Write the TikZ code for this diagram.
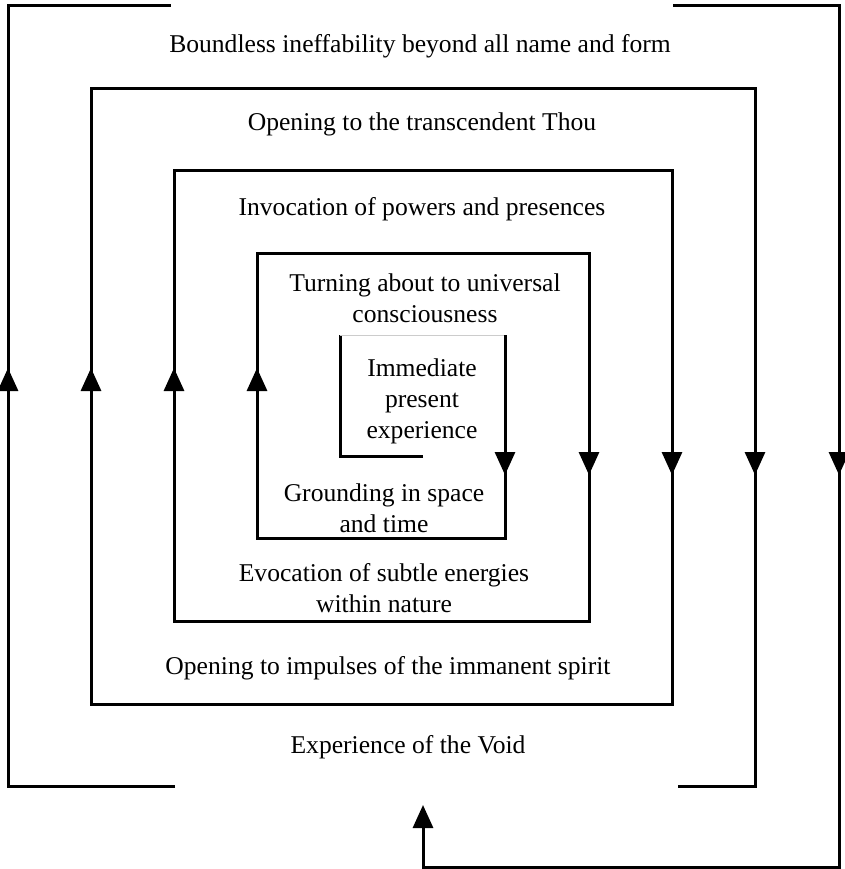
\documentclass[tikz,border=0pt]{standalone}
\usepackage{fontspec}
\setmainfont{Liberation Serif}
\usetikzlibrary{arrows.meta}
\begin{document}
\begin{tikzpicture}[x=1bp,y=-1bp,
  spiral/.style={line width=3bp, line join=miter},
  faint/.style={line width=0.6bp, black!20},
  tip/.style={line width=3bp, -{Triangle[width=20bp,length=23bp]}},
  lbl/.style={font=\fontsize{25.6bp}{30.8bp}\selectfont, inner sep=0pt, anchor=base, align=center}]
\useasboundingbox (0,0) rectangle (845,869);
% spiral
\draw[spiral] (423,456) -- (340,456) -- (340,335);
\draw[faint] (340,335) -- (505,335);
\draw[spiral] (505,335) -- (505,538) -- (257,538) -- (257,253) -- (589,253) -- (589,621)
  -- (174,621) -- (174,170) -- (672,170) -- (672,704) -- (91,704) -- (91,88)
  -- (755,88) -- (755,786) -- (678,786);
\draw[spiral] (175,786) -- (8,786) -- (8,5) -- (171,5);
\draw[spiral, -{Triangle[width=20bp,length=23bp]}] (673,5) -- (839,5) -- (839,867) -- (423,867) -- (423,805);
% arrowheads
\foreach \x in {8,91,174,257} \draw[tip] (\x,395) -- (\x,368);
\foreach \x in {505,589,672,755,839} \draw[tip] (\x,445) -- (\x,475);
% labels (multi-line labels anchored at the baseline of their last line)
\node[lbl] (l8) at (420,52) {Boundless ineffability beyond all name and form};
\node[lbl] (l7) at (422,130) {Opening to the transcendent Thou};
\node[lbl] (l6) at (422,215) {Invocation of powers and presences};
\node[lbl] (l5) at (425,322) {Turning about to universal\\consciousness};
\node[lbl] (l0) at (422,438) {Immediate\\present\\experience};
\node[lbl] (l1) at (384,532) {Grounding in space\\and time};
\node[lbl] (l2) at (384,612) {Evocation of subtle energies\\within nature};
\node[lbl] (l3) at (388,674) {Opening to impulses of the immanent spirit};
\node[lbl] (l4) at (408,753) {Experience of the Void};
\end{tikzpicture}
\end{document}
